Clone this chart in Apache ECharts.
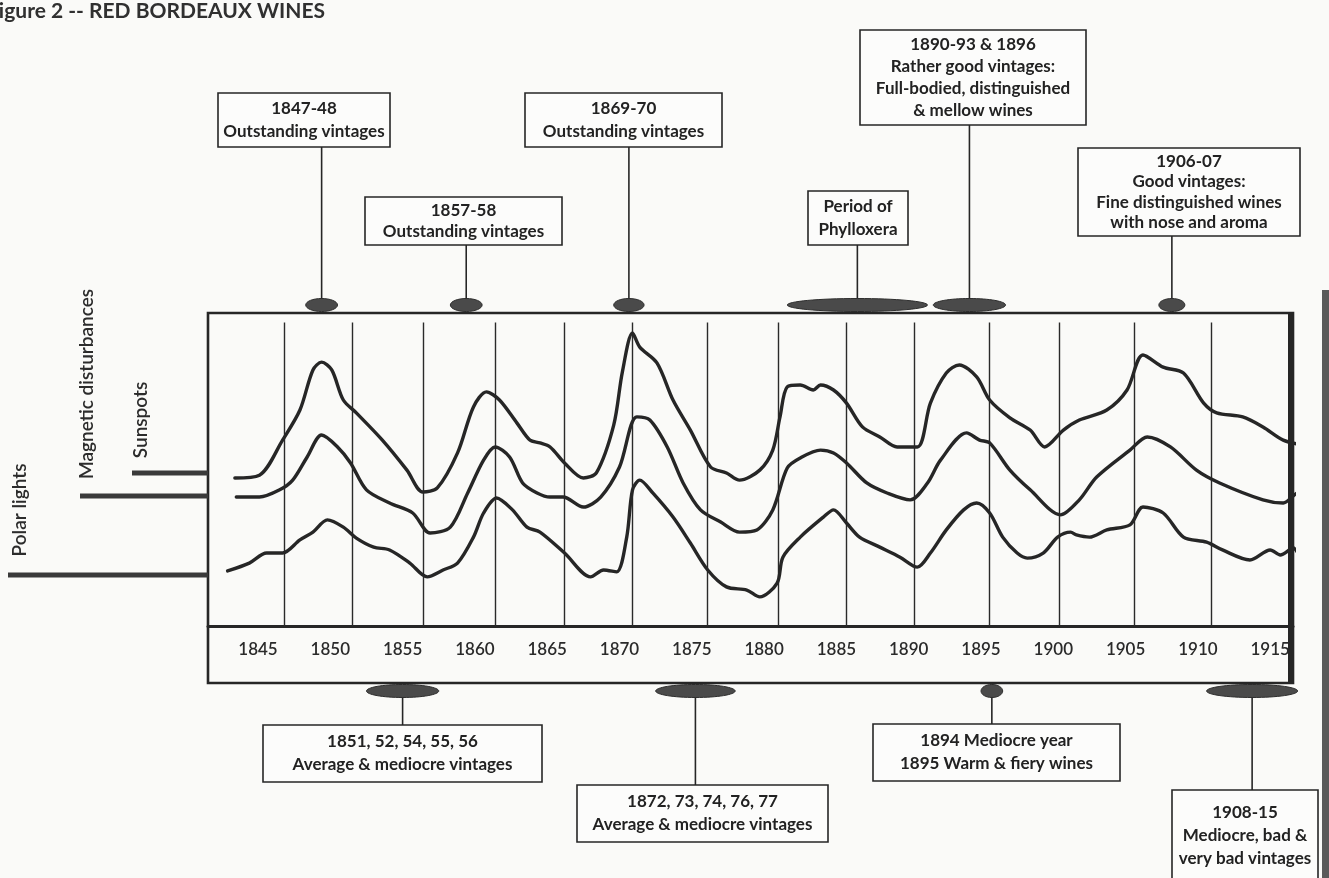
<!DOCTYPE html>
<html>
<head>
<meta charset="utf-8">
<title>Red Bordeaux wines</title>
<script src="https://cdn.jsdelivr.net/npm/echarts@6/dist/echarts.min.js"></script>
<style>
  html, body { margin: 0; padding: 0; background: #fafaf8; }
  #chart { width: 1329px; height: 878px; }
</style>
</head>
<body>
<div id="chart"></div>
<script>
// ---- data ---------------------------------------------------------------
const yearTicks = [1845, 1850, 1855, 1860, 1865, 1870, 1875, 1880, 1885, 1890, 1895, 1900, 1905, 1910, 1915];
const guideYears = [1846.8, 1851.5, 1856.4, 1861.4, 1866.2, 1870.9, 1876.1, 1881.0, 1885.7, 1890.4, 1895.6, 1900.4, 1905.6, 1910.9];

const sunspots = [[1843.4,47.3],[1845.1,48.2],[1846.7,59.4],[1847.9,69.0],[1848.8,81.8],[1849.4,84.3],[1850.1,81.8],[1850.9,72.2],[1851.8,68.1],[1853.6,59.4],[1855.3,49.8],[1856.4,42.8],[1857.4,44.1],[1858.8,55.3],[1859.9,70.0],[1860.8,74.8],[1861.7,72.2],[1862.9,64.9],[1863.8,59.4],[1864.5,58.5],[1865.2,57.2],[1866.2,52.1],[1867.5,47.3],[1868.4,48.9],[1869.6,64.2],[1870.2,81.2],[1870.9,93.6],[1871.4,89.1],[1872.6,84.0],[1873.7,72.2],[1874.9,62.6],[1876.3,50.8],[1877.4,48.9],[1878.3,46.6],[1879.7,49.8],[1880.6,56.2],[1881.1,66.8],[1881.6,76.4],[1882.5,77.0],[1883.4,75.4],[1883.9,77.0],[1884.8,75.4],[1885.7,71.2],[1886.8,63.6],[1888.0,60.4],[1889.2,57.2],[1890.6,57.2],[1891.5,71.2],[1892.6,80.8],[1893.5,83.4],[1894.7,79.6],[1895.6,72.2],[1897.0,66.5],[1898.4,62.6],[1899.4,57.2],[1900.7,62.6],[1901.8,65.8],[1903.7,69.0],[1905.1,75.4],[1906.2,86.6],[1907.6,82.7],[1909.0,80.8],[1910.4,71.2],[1911.3,68.1],[1913.1,66.8],[1914.5,63.6],[1915.9,59.4],[1917.3,57.8]];

const magnetic = [[1843.5,41.2],[1845.1,41.2],[1846.5,43.5],[1847.4,46.6],[1848.4,54.0],[1849.4,61.0],[1850.5,57.2],[1851.4,52.1],[1852.5,43.5],[1854.1,39.3],[1855.7,36.1],[1856.9,29.7],[1858.3,31.6],[1859.5,42.5],[1860.6,53.0],[1861.4,57.2],[1862.4,54.0],[1863.3,45.7],[1864.3,42.5],[1865.2,41.2],[1866.1,41.2],[1867.5,38.0],[1868.7,41.2],[1870.0,50.8],[1871.2,66.8],[1872.1,65.8],[1873.3,57.2],[1874.4,45.7],[1875.6,37.1],[1877.0,33.2],[1878.3,30.0],[1879.5,30.7],[1880.6,37.1],[1881.6,50.5],[1882.5,53.7],[1883.9,56.2],[1884.8,55.3],[1885.7,52.1],[1887.1,45.7],[1888.5,42.5],[1890.1,40.3],[1891.3,45.7],[1892.2,53.0],[1894.0,61.7],[1894.9,59.4],[1895.6,58.5],[1897.0,49.8],[1898.4,43.5],[1900.5,35.5],[1901.8,40.3],[1903.0,47.6],[1905.3,56.2],[1906.5,60.4],[1908.1,57.2],[1909.9,49.8],[1911.5,45.7],[1914.5,40.3],[1915.9,39.3],[1916.9,42.5],[1917.9,42.8]];

const polarLights = [[1842.9,17.6],[1844.4,20.1],[1845.6,23.3],[1846.7,23.3],[1847.9,27.5],[1848.8,30.0],[1849.8,33.9],[1850.9,31.6],[1851.8,28.1],[1853.0,25.2],[1854.1,24.3],[1855.5,20.1],[1856.7,15.7],[1857.8,17.9],[1858.8,20.1],[1859.9,28.4],[1860.6,36.1],[1861.5,40.9],[1862.6,37.1],[1863.6,31.6],[1864.5,30.0],[1866.2,23.3],[1868.0,15.7],[1868.9,17.9],[1869.8,17.3],[1870.5,28.4],[1870.9,43.5],[1871.4,46.6],[1872.3,42.5],[1873.7,34.8],[1874.9,26.5],[1876.1,17.9],[1877.4,12.5],[1878.8,11.5],[1879.7,9.3],[1880.9,13.7],[1881.3,22.0],[1882.5,28.4],[1884.1,34.8],[1884.8,37.1],[1885.7,32.9],[1886.6,28.4],[1888.0,25.2],[1889.4,22.0],[1890.6,18.8],[1891.5,23.3],[1892.6,30.7],[1893.8,37.1],[1894.7,39.3],[1895.6,36.1],[1896.5,28.4],[1897.5,23.3],[1898.2,21.7],[1899.3,23.3],[1900.3,28.4],[1901.2,30.0],[1901.6,29.1],[1902.5,28.4],[1903.7,30.7],[1905.3,32.3],[1906.2,38.0],[1907.6,36.1],[1909.0,28.4],[1910.6,26.8],[1911.7,24.3],[1913.6,21.1],[1915.0,24.3],[1915.7,22.7],[1916.6,24.9],[1917.3,21.1],[1918.2,22.0]];

// vintage periods: year span marked on the frame and the note attached to it
const periodSpans = [[1848.3,1850.5],[1858.3,1860.5],[1869.6,1871.7],[1881.6,1891.3],[1891.7,1896.7],[1907.3,1909.1],[1852.5,1857.5],[1872.5,1878.0],[1895.0,1896.5],[1910.6,1916.9]];
const periodSides = ['top','top','top','top','top','top','bottom','bottom','bottom','bottom'];
const periodNotes = [
  ['1847-48', 'Outstanding vintages'],
  ['1857-58', 'Outstanding vintages'],
  ['1869-70', 'Outstanding vintages'],
  ['Period of', 'Phylloxera'],
  ['1890-93 & 1896', 'Rather good vintages:', 'Full-bodied, distinguished', '& mellow wines'],
  ['1906-07', 'Good vintages:', 'Fine distinguished wines', 'with nose and aroma'],
  ['1851, 52, 54, 55, 56', 'Average & mediocre vintages'],
  ['1872, 73, 74, 76, 77', 'Average & mediocre vintages'],
  ['1894 Mediocre year', '1895 Warm & fiery wines'],
  ['1908-15', 'Mediocre, bad &', 'very bad vintages']
];
const seriesNames = ['Polar lights', 'Magnetic disturbances', 'Sunspots'];

// ---- layout (pixels) -----------------------------------------------------
const frame = { left: 208, top: 313, right: 1293, plotBottom: 626, bottom: 683 };
// note boxes: [x, y, width, height]
const noteBoxes = [
  [218, 93, 172, 54],
  [365, 197, 197, 48],
  [525, 93, 197, 54],
  [808, 191, 100, 54],
  [860, 30, 226, 95],
  [1078, 148, 222, 88],
  [263, 725, 279, 57],
  [577, 785, 251, 57],
  [873, 724, 247, 57],
  [1172, 790, 146, 92]
];
// legend: [label centre x, label centre y, bar x start, bar y]
const legendMarks = [
  [20, 510, 8, 575],
  [87, 384, 80, 496],
  [141, 420, 132, 473]
];

const INK = '#262626';
const FONT = 'Lato, "Open Sans", sans-serif';

const chart = echarts.init(document.getElementById('chart'), null, { renderer: 'canvas' });

// year scale: 1845 sits at x=258, 14.46 px per year
const xMin = 1845 + (frame.left - 258) / 14.46;
const xMax = 1845 + (frame.right - 258) / 14.46;

function lineSeries(name, data) {
  return {
    name: name,
    type: 'line',
    data: data,
    smooth: 0.3,
    symbol: 'none',
    clip: false,
    lineStyle: { color: INK, width: 3.4, cap: 'round', join: 'round' },
    z: 5
  };
}

// ellipse markers, connectors and note boxes
const periodSeries = {
  type: 'custom',
  data: periodSpans.map((s, i) => [s[0], s[1], i]),
  clip: false,
  silent: true,
  z: 6,
  renderItem: function (params, api) {
    const i = api.value(2);
    const x0 = api.coord([api.value(0), 0])[0];
    const x1 = api.coord([api.value(1), 0])[0];
    const cx = (x0 + x1) / 2;
    const rx = (x1 - x0) / 2;
    const top = periodSides[i] === 'top';
    const cy = top ? frame.top - 8 : frame.bottom + 8;
    const ry = 6.5;
    const box = noteBoxes[i];
    const lines = periodNotes[i];
    const children = [];
    const y1 = top ? box[1] + box[3] : box[1];
    children.push({
      type: 'line',
      shape: { x1: cx, y1: cy, x2: cx, y2: y1 },
      style: { stroke: INK, lineWidth: 1.6 }
    });
    children.push({
      type: 'ellipse',
      shape: { cx: cx, cy: cy, rx: rx, ry: ry },
      style: { fill: '#4a4a4a', stroke: '#2e2e2e', lineWidth: 1 }
    });
    children.push({
      type: 'rect',
      shape: { x: box[0], y: box[1], width: box[2], height: box[3] },
      style: { fill: '#fcfcfb', stroke: INK, lineWidth: 1.6 }
    });
    const lh = Math.min(23, (box[3] - 6) / lines.length);
    const startY = box[1] + box[3] / 2 - (lines.length - 1) * lh / 2;
    lines.forEach((t, k) => {
      children.push({
        type: 'text',
        style: {
          text: t, x: box[0] + box[2] / 2, y: startY + k * lh,
          textAlign: 'center', textVerticalAlign: 'middle',
          font: '700 17px ' + FONT, fill: '#222'
        }
      });
    });
    return { type: 'group', children: children };
  }
};

// thin guide lines across the plot
const guideSeries = {
  type: 'line',
  data: [],
  silent: true,
  markLine: {
    symbol: 'none',
    silent: true,
    label: { show: false },
    lineStyle: { color: '#2a2a2a', width: 1.4, type: 'solid' },
    data: guideYears.map(y => [{ coord: [y, 97] }, { coord: [y, 0] }])
  }
};

const graphics = [];
// frame of the plot and the year band
graphics.push({
  type: 'rect', z: 10, silent: true,
  shape: { x: frame.left, y: frame.top, width: frame.right - frame.left, height: frame.bottom - frame.top },
  style: { fill: 'none', stroke: INK, lineWidth: 2.6 }
});
graphics.push({
  type: 'rect', z: 10, silent: true,
  shape: { x: frame.right - 5, y: frame.top, width: 5, height: frame.bottom - frame.top },
  style: { fill: INK }
});
// page edge on the right
graphics.push({
  type: 'rect', z: 1, silent: true,
  shape: { x: 1322, y: 290, width: 7, height: 588 },
  style: { fill: '#5a5a5a' }
});
// title
graphics.push({
  type: 'text', z: 10, left: -13, top: 1,
  style: { text: 'Figure 2 -- RED BORDEAUX WINES', font: '700 21px ' + FONT, fill: '#303030' }
});
// legend labels with their level bars
legendMarks.forEach((m, i) => {
  graphics.push({
    type: 'text', z: 10, x: m[0], y: m[1], rotation: Math.PI / 2,
    style: { text: seriesNames[i], font: '600 19px ' + FONT, fill: '#2c2c2c', textAlign: 'center', textVerticalAlign: 'middle' }
  });
  graphics.push({
    type: 'rect', z: 10, silent: true,
    shape: { x: m[2], y: m[3] - 2.5, width: frame.left - m[2], height: 5 },
    style: { fill: '#3a3a3a' }
  });
});

chart.setOption({
  animation: false,
  backgroundColor: '#fafaf8',
  grid: { left: frame.left, right: 1329 - frame.right, top: frame.top, bottom: 878 - frame.plotBottom, containLabel: false },
  xAxis: {
    type: 'value', min: xMin, max: xMax,
    axisLine: { show: true, lineStyle: { color: INK, width: 3 } },
    axisTick: { show: false },
    splitLine: { show: false },
    axisLabel: {
      customValues: yearTicks,
      formatter: v => String(Math.round(v)),
      margin: 15,
      color: '#2a2a2a',
      fontFamily: FONT,
      fontSize: 17,
      fontWeight: 600
    }
  },
  yAxis: {
    type: 'value', min: 0, max: 100,
    show: false
  },
  graphic: graphics,
  series: [
    lineSeries(seriesNames[0], polarLights),
    lineSeries(seriesNames[1], magnetic),
    lineSeries(seriesNames[2], sunspots),
    guideSeries,
    periodSeries
  ]
});
</script>
</body>
</html>
